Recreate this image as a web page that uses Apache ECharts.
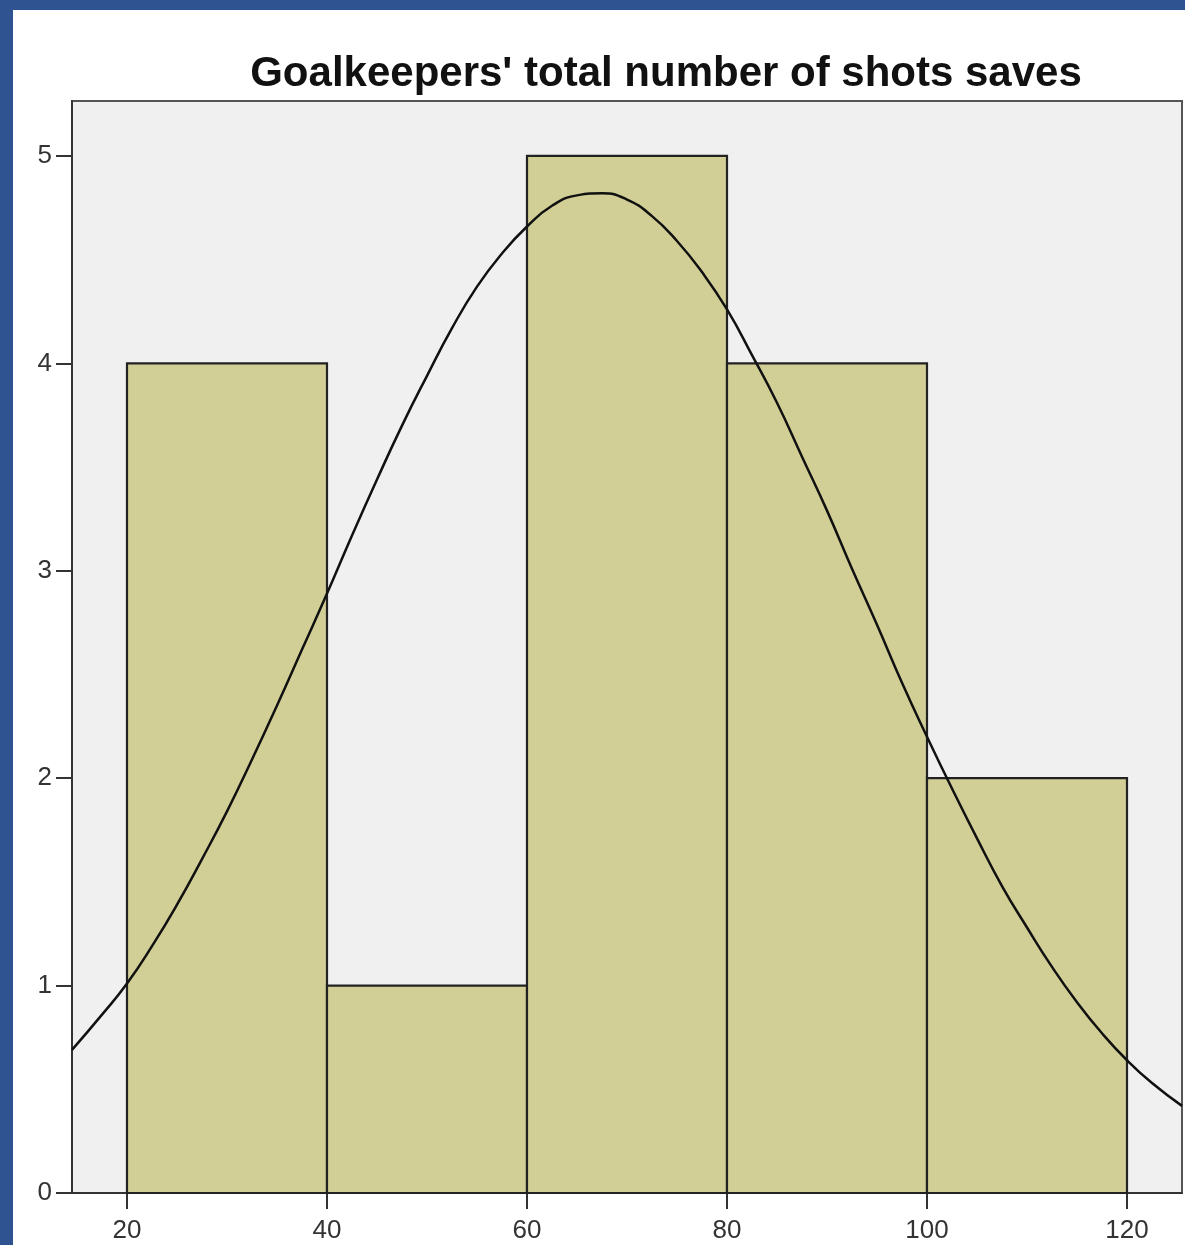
<!DOCTYPE html>
<html>
<head>
<meta charset="utf-8">
<script src="https://cdn.jsdelivr.net/npm/echarts@6/dist/echarts.min.js"></script>
<style>
html,body{margin:0;padding:0;background:#2f5390;width:1185px;height:1245px;overflow:hidden;}
#chart{position:absolute;left:13px;top:10px;width:1172px;height:1235px;background:#ffffff;}
</style>
</head>
<body>
<div id="chart"></div>
<script>
// Histogram bins (lower edge, upper edge) and frequencies
var binStarts = [20, 40, 60, 80, 100];
var binEnds = [40, 60, 80, 100, 120];
var counts = [4, 1, 5, 4, 2];
// Normal curve values
var curveX = [14.5, 17.5, 20, 22.5, 25, 27.5, 30, 32.5, 35, 37.5, 40, 42.5, 45, 47.5, 50, 52.5, 55, 57.5, 60, 62.5, 65, 67.5, 70, 72.5, 75, 77.5, 80, 82.5, 85, 87.5, 90, 92.5, 95, 97.5, 100, 102.5, 105, 107.5, 110, 112.5, 115, 117.5, 120, 122.5, 125.5];
var curveY = [0.69, 0.86, 1.01, 1.19, 1.39, 1.61, 1.84, 2.09, 2.35, 2.62, 2.89, 3.17, 3.44, 3.70, 3.94, 4.17, 4.37, 4.53, 4.66, 4.76, 4.81, 4.82, 4.79, 4.71, 4.59, 4.44, 4.26, 4.04, 3.81, 3.55, 3.29, 3.01, 2.74, 2.46, 2.20, 1.95, 1.71, 1.48, 1.28, 1.09, 0.92, 0.77, 0.64, 0.53, 0.42];
var xTicks = [20, 40, 60, 80, 100, 120];
var yTicks = [0, 1, 2, 3, 4, 5];
var titleText = "Goalkeepers' total number of shots saves";

var barData = binStarts.map(function (s, i) { return [s, binEnds[i], counts[i]]; });
var lineData = curveX.map(function (x, i) { return [x, curveY[i]]; });

var chart = echarts.init(document.getElementById('chart'));
chart.setOption({
  animation: false,
  title: {
    text: titleText,
    left: 661 - 13,
    top: 38,
    textAlign: 'center',
    textStyle: { fontFamily: 'Liberation Sans, Arial, sans-serif', fontWeight: 'bold', fontSize: 42, color: '#111' }
  },
  grid: {
    left: 59, top: 91, right: 3, bottom: 52,
    show: true, backgroundColor: '#f0f0f0', borderColor: '#555', borderWidth: 2
  },
  xAxis: {
    type: 'value', min: 14.5, max: 125.5,
    axisLine: { show: true, onZero: false, lineStyle: { color: '#333', width: 2 } },
    axisTick: { show: true, length: 16, customValues: xTicks, lineStyle: { color: '#333', width: 2 } },
    axisLabel: { customValues: xTicks, fontSize: 26, color: '#333', margin: 25, fontFamily: 'Liberation Sans, Arial, sans-serif' },
    splitLine: { show: false }
  },
  yAxis: {
    type: 'value', min: 0, max: 5.265,
    axisLine: { show: true, lineStyle: { color: '#333', width: 2 } },
    axisTick: { show: true, length: 16, customValues: yTicks, lineStyle: { color: '#333', width: 2 } },
    axisLabel: { customValues: yTicks, fontSize: 26, color: '#333', margin: 20, fontFamily: 'Liberation Sans, Arial, sans-serif' },
    splitLine: { show: false }
  },
  series: [
    {
      type: 'custom',
      data: barData,
      encode: { x: [0, 1], y: 2 },
      renderItem: function (params, api) {
        var p0 = api.coord([api.value(0), 0]);
        var p1 = api.coord([api.value(1), api.value(2)]);
        return {
          type: 'rect',
          shape: { x: p0[0], y: p1[1], width: p1[0] - p0[0], height: p0[1] - p1[1] },
          style: { fill: '#d2cf96', stroke: '#222', lineWidth: 2.2 }
        };
      },
      z: 2
    },
    {
      type: 'line',
      data: lineData,
      smooth: 0.5,
      showSymbol: false,
      lineStyle: { color: '#111', width: 2.5 },
      z: 3
    }
  ]
});
</script>
</body>
</html>
